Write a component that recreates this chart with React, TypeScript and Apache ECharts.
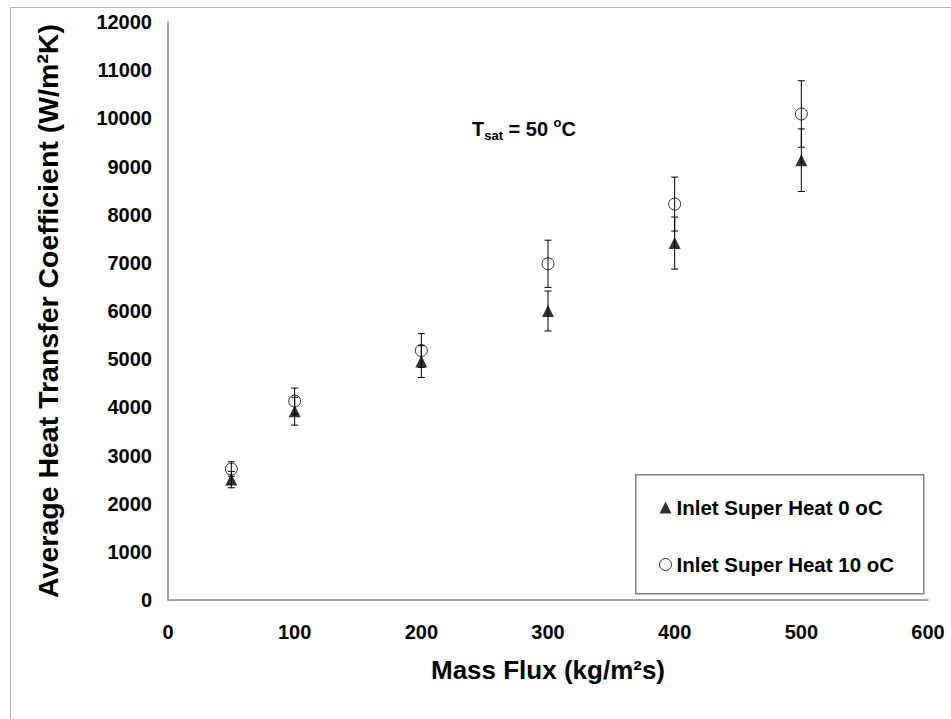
import React, { useEffect, useRef } from "react";
import * as echarts from "echarts";

const massFlux = [50, 100, 200, 300, 400, 500];
const htcSH0 = [2500, 3920, 4950, 6000, 7410, 9130];
const errSH0 = [170, 290, 330, 415, 540, 650];
const htcSH10 = [2720, 4130, 5180, 6980, 8220, 10090];
const errSH10 = [150, 270, 350, 490, 560, 690];
const seriesNames = ["Inlet Super Heat 0 oC", "Inlet Super Heat 10 oC"];
const xAxisTitle = "Mass Flux (kg/m²s)";
const yAxisTitle = "Average Heat Transfer Coefficient (W/m²K)";

const FONT = "'Liberation Sans', Arial, sans-serif";

function errorSeries(vals: number[], errs: number[]) {
  return {
    type: "custom",
    silent: true,
    z: 1,
    data: massFlux.map((x, i) => [x, vals[i] - errs[i], vals[i] + errs[i]]),
    renderItem: (_params: any, api: any) => {
      const x = api.value(0);
      const lo = api.coord([x, api.value(1)]);
      const hi = api.coord([x, api.value(2)]);
      const w = 3.5;
      const st = { stroke: "#000", lineWidth: 1 };
      return {
        type: "group",
        children: [
          { type: "line", shape: { x1: lo[0], y1: lo[1], x2: hi[0], y2: hi[1] }, style: st },
          { type: "line", shape: { x1: lo[0] - w, y1: lo[1], x2: lo[0] + w, y2: lo[1] }, style: st },
          { type: "line", shape: { x1: hi[0] - w, y1: hi[1], x2: hi[0] + w, y2: hi[1] }, style: st },
        ],
      };
    },
  };
}

export default function App() {
  const ref = useRef<HTMLDivElement>(null);
  useEffect(() => {
    if (!ref.current) return;
    const chart = echarts.init(ref.current, undefined, { renderer: "svg" });
    chart.setOption({
      animation: false,
      backgroundColor: "#fff",
      textStyle: { fontFamily: FONT },
      grid: { left: 168, top: 22, right: 23, bottom: 119, containLabel: false },
      xAxis: {
        type: "value",
        min: 0,
        max: 600,
        interval: 100,
        name: xAxisTitle,
        nameLocation: "middle",
        nameGap: 57,
        nameTextStyle: { fontFamily: FONT, fontWeight: "bold", fontSize: 26, color: "#000" },
        axisLine: { show: true, onZero: false, lineStyle: { color: "#868686", width: 1.5 } },
        axisTick: { show: false },
        splitLine: { show: false },
        axisLabel: { fontFamily: FONT, fontWeight: "bold", fontSize: 20, color: "#000", margin: 22 },
      },
      yAxis: {
        type: "value",
        min: 0,
        max: 12000,
        interval: 1000,
        name: yAxisTitle,
        nameLocation: "middle",
        nameRotate: 90,
        nameGap: 106,
        nameTextStyle: { fontFamily: FONT, fontWeight: "bold", fontSize: 28.5, color: "#000" },
        axisLine: { show: true, lineStyle: { color: "#868686", width: 1.5 } },
        axisTick: { show: false },
        splitLine: { show: false },
        axisLabel: {
          fontFamily: FONT,
          fontWeight: "bold",
          fontSize: 20,
          color: "#000",
          margin: 16,
          formatter: (v: number) => String(v),
        },
      },
      legend: {
        orient: "vertical",
        left: 659,
        top: 497,
        z: 20,
        itemWidth: 12,
        itemHeight: 12,
        itemGap: 36,
        padding: 0,
        textStyle: { fontFamily: FONT, fontWeight: "bold", fontSize: 20.5, color: "#000" },
        data: [
          { name: seriesNames[0], icon: "triangle", itemStyle: { color: "#000" } },
          {
            name: seriesNames[1],
            icon: "circle",
            itemStyle: { color: "#fff", borderColor: "#000", borderWidth: 1 },
          },
        ],
      },
      graphic: [
        {
          type: "rect",
          left: 8,
          top: 5,
          silent: true,
          shape: { width: 960, height: 730 },
          style: { fill: "none", stroke: "#b5b5b5", lineWidth: 1 },
          z: -10,
        },
        {
          type: "rect",
          left: 635,
          top: 474,
          silent: true,
          shape: { width: 288, height: 119 },
          style: { fill: "#fff", stroke: "#808080", lineWidth: 1.5 },
          z: 0,
        },
        {
          type: "text",
          left: 472,
          top: 116,
          silent: true,
          style: {
            text: "{a|T}{b|sat}{a| = 50 }{c|o}{a|C}",
            fill: "#000",
            rich: {
              a: { fontFamily: FONT, fontWeight: "bold", fontSize: 20, lineHeight: 26, fill: "#000" },
              b: { fontFamily: FONT, fontWeight: "bold", fontSize: 13, lineHeight: 11, verticalAlign: "bottom", fill: "#000" },
              c: { fontFamily: FONT, fontWeight: "bold", fontSize: 13, lineHeight: 13, verticalAlign: "top", fill: "#000" },
            },
          },
        },
      ],
      series: [
        errorSeries(htcSH0, errSH0),
        errorSeries(htcSH10, errSH10),
        {
          name: seriesNames[0],
          type: "scatter",
          symbol: "triangle",
          symbolSize: 12,
          z: 3,
          itemStyle: { color: "#000" },
          data: massFlux.map((x, i) => [x, htcSH0[i]]),
        },
        {
          name: seriesNames[1],
          type: "scatter",
          symbol: "circle",
          symbolSize: 12,
          z: 3,
          itemStyle: { color: "rgba(0,0,0,0)", borderColor: "#000", borderWidth: 1 },
          data: massFlux.map((x, i) => [x, htcSH10[i]]),
        },
      ],
    });
    return () => chart.dispose();
  }, []);
  return (
    <div
      ref={ref}
      style={{ position: "absolute", left: 0, top: 0, width: 951, height: 719 }}
    />
  );
}
